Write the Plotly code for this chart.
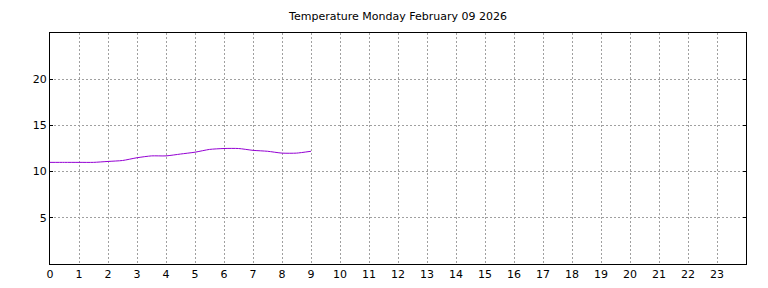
import plotly.graph_objects as go

hours = [0, 0.5, 1, 1.5, 2, 2.5, 3, 3.5, 4, 4.5, 5, 5.5, 6, 6.5, 7, 7.5, 8, 8.5, 9]
temps = [11.0, 11.0, 11.0, 11.0, 11.1, 11.2, 11.5, 11.7, 11.7, 11.9, 12.1, 12.4, 12.5, 12.5, 12.3, 12.2, 12.0, 12.0, 12.2]
x_ticks = list(range(0, 24))
y_ticks = [5, 10, 15, 20]
title_text = "Temperature Monday February 09 2026"

fig = go.Figure()
fig.add_trace(go.Scatter(x=hours, y=temps, mode="lines",
                         line=dict(color="#9400d3", width=1, shape="spline", smoothing=0.6),
                         showlegend=False, hoverinfo="skip"))

axis_common = dict(
    showline=True, linecolor="black", linewidth=1, mirror="ticks",
    tickcolor="black",
    showgrid=True, gridcolor="#a0a0a0", gridwidth=1, griddash="2px,2px",
    zeroline=False, automargin=False,
    tickfont=dict(family="DejaVu Sans", size=11, color="black"),
)

fig.update_layout(
    width=768, height=288,
    margin=dict(l=50, r=22, t=33, b=24, autoexpand=False),
    paper_bgcolor="white", plot_bgcolor="white",
    title=dict(text=title_text, x=0.5, xref="paper", xanchor="center",
               y=1 - 16 / 288, yref="container", yanchor="middle",
               font=dict(family="DejaVu Sans", size=11, color="black")),
    xaxis=dict(range=[0, 24], tickvals=x_ticks, ticktext=[str(v) for v in x_ticks],
               ticks="", **axis_common),
    yaxis=dict(range=[0, 25], tickvals=y_ticks, ticktext=[str(v) for v in y_ticks],
               ticks="inside", ticklen=3, **axis_common),
)

fig.write_html("out.html")
